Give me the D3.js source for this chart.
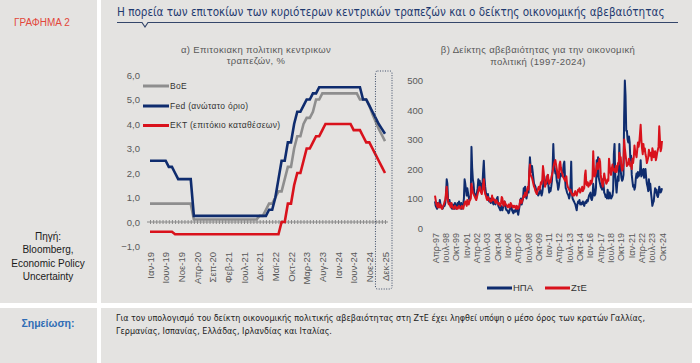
<!DOCTYPE html>
<html>
<head>
<meta charset="utf-8">
<script src="https://cdn.jsdelivr.net/npm/d3@7"></script>
<style>
  body { margin: 0; background: #fff; }
  svg { display: block; font-family: "Liberation Sans", Arial, sans-serif; }
</style>
</head>
<body>
<div id="chart"></div>
<script>
const WIDTH = 700;
const HEIGHT = 363;
const PANEL = '#e4e3e1';
const NAVY = '#0f2c6e';
const RED = '#d9121c';
const GREY = '#8e8e8e';
const TEXT = '#595959';

const MONTHS_GR = ['Ιαν', 'Φεβ', 'Μαρ', 'Απρ', 'Μαϊ', 'Ιουν', 'Ιουλ', 'Αυγ', 'Σεπ', 'Οκτ', 'Νοε', 'Δεκ'];

// --- chart a: policy rates, monthly Jan-19 .. Nov-24, then forecast points
const RATE_START = new Date(2019, 0, 1);
const RATE_END = new Date(2024, 10, 1);
const RATE_FORECASTS = ['Δεκ-24', 'Μαρ-25', 'Ιουν-25', 'Σεπ-25', 'Δεκ-25'];

const BOE = [
  0.75, 0.75, 0.75, 0.75, 0.75, 0.75, 0.75, 0.75, 0.75, 0.75, 0.75, 0.75,
  0.75, 0.75, 0.1, 0.1, 0.1, 0.1, 0.1, 0.1, 0.1, 0.1, 0.1, 0.1,
  0.1, 0.1, 0.1, 0.1, 0.1, 0.1, 0.1, 0.1, 0.1, 0.1, 0.1, 0.25,
  0.25, 0.5, 0.75, 0.75, 1.0, 1.25, 1.25, 1.75, 2.25, 2.25, 3.0, 3.5,
  3.5, 4.0, 4.25, 4.25, 4.5, 5.0, 5.0, 5.25, 5.25, 5.25, 5.25, 5.25,
  5.25, 5.25, 5.25, 5.25, 5.25, 5.25, 5.25, 5.0, 5.0, 5.0, 4.75,
  4.4, 4.1, 3.8, 3.55, 3.3
];
const FED = [
  2.5, 2.5, 2.5, 2.5, 2.5, 2.5, 2.25, 2.25, 2.0, 1.75, 1.75, 1.75,
  1.75, 1.75, 0.25, 0.25, 0.25, 0.25, 0.25, 0.25, 0.25, 0.25, 0.25, 0.25,
  0.25, 0.25, 0.25, 0.25, 0.25, 0.25, 0.25, 0.25, 0.25, 0.25, 0.25, 0.25,
  0.25, 0.25, 0.5, 0.5, 1.0, 1.75, 2.5, 2.5, 3.25, 3.25, 4.0, 4.5,
  4.5, 4.75, 5.0, 5.0, 5.25, 5.25, 5.5, 5.5, 5.5, 5.5, 5.5, 5.5,
  5.5, 5.5, 5.5, 5.5, 5.5, 5.5, 5.5, 5.5, 5.0, 5.0, 4.75,
  4.5, 4.25, 4.0, 3.8, 3.6
];
const ECB = [
  -0.4, -0.4, -0.4, -0.4, -0.4, -0.4, -0.4, -0.4, -0.5, -0.5, -0.5, -0.5,
  -0.5, -0.5, -0.5, -0.5, -0.5, -0.5, -0.5, -0.5, -0.5, -0.5, -0.5, -0.5,
  -0.5, -0.5, -0.5, -0.5, -0.5, -0.5, -0.5, -0.5, -0.5, -0.5, -0.5, -0.5,
  -0.5, -0.5, -0.5, -0.5, -0.5, -0.5, 0.0, 0.0, 0.75, 0.75, 1.5, 2.0,
  2.0, 2.5, 3.0, 3.0, 3.25, 3.5, 3.5, 3.75, 4.0, 4.0, 4.0, 4.0,
  4.0, 4.0, 4.0, 4.0, 4.0, 3.75, 3.75, 3.75, 3.5, 3.25, 3.25,
  3.0, 2.75, 2.5, 2.25, 2.0
];
const RATE_TICKS = [-1, 0, 1, 2, 3, 4, 5, 6];

// --- chart b: economic policy uncertainty, monthly Apr-97 .. Oct-24
const EPU_START = new Date(1997, 3, 1);
const EPU_US = [
  90, 75, 70, 65, 85, 70, 75, 95, 80,
  75, 70, 65, 70, 80, 75, 85, 110, 165, 150, 95, 85,
  95, 80, 75, 70, 65, 80, 70, 65, 85, 70, 65, 80,
  85, 75, 90, 70, 80, 85, 65, 70, 80, 100, 165, 150,
  130, 110, 135, 120, 105, 95, 100, 110, 275, 205, 165, 150,
  120, 115, 110, 100, 120, 135, 165, 145, 160, 140, 150, 125,
  150, 195, 228, 170, 140, 120, 110, 100, 115, 95, 90, 100,
  85, 95, 100, 85, 80, 95, 85, 80, 95, 100, 105, 75,
  70, 65, 60, 75, 65, 60, 70, 80, 90, 80, 65, 60,
  60, 55, 50, 55, 65, 70, 75, 60, 55, 50, 60, 55,
  55, 65, 70, 55, 45, 60, 75, 95, 100, 80, 90, 100,
  135, 125, 140, 110, 100, 115, 135, 120, 185, 240, 205, 190,
  210, 190, 170, 150, 145, 140, 130, 130, 120, 110, 115, 120,
  130, 120, 110, 120, 140, 165, 175, 155, 160, 150, 170, 180,
  140, 120, 135, 125, 140, 160, 200, 285, 220, 200, 185, 190,
  160, 150, 130, 140, 160, 180, 185, 180, 175, 190, 215, 225,
  170, 135, 130, 120, 115, 110, 100, 110, 150, 225, 120, 100,
  95, 90, 85, 80, 70, 60, 80, 90, 85, 95, 80, 85,
  80, 85, 90, 80, 75, 85, 90, 85, 95, 90, 100, 110,
  115, 120, 100, 95, 105, 150, 130, 110, 115, 135, 230, 175,
  240, 170, 160, 150, 140, 135, 130, 165, 150, 120, 115, 105,
  110, 100, 130, 115, 100, 120, 110, 100, 105, 110, 130, 250,
  285, 180, 150, 120, 150, 175, 160, 285, 210, 195, 170, 160,
  165, 180, 380, 500, 450, 330, 330, 300, 290, 310, 290, 230,
  245, 180, 160, 140, 145, 130, 140, 170, 185, 170, 190, 175,
  180, 190, 230, 175, 180, 195, 200, 170, 185, 200, 170, 150,
  140, 125, 165, 130, 150, 120, 100, 75, 85, 90, 115, 135,
  120, 130, 110, 105, 115, 140, 130, 120, 125, 135
];
const EPU_EU = [
  110, 95, 80, 75, 70, 85, 75, 70, 80,
  70, 65, 70, 75, 80, 90, 95, 120, 140, 110, 90, 80,
  85, 75, 70, 85, 75, 70, 65, 70, 75, 70, 65, 70,
  65, 70, 75, 70, 65, 70, 75, 70, 65, 75, 85, 90,
  85, 75, 95, 85, 80, 90, 95, 100, 150, 135, 120, 115,
  110, 105, 100, 95, 105, 115, 125, 135, 140, 125, 120, 115,
  130, 150, 165, 130, 115, 110, 100, 95, 105, 100, 95, 90,
  95, 90, 110, 95, 100, 95, 90, 85, 95, 90, 85, 80,
  85, 80, 75, 85, 105, 100, 80, 75, 90, 85, 80, 75,
  75, 70, 80, 75, 70, 85, 80, 75, 70, 75, 70, 75,
  70, 65, 75, 70, 65, 70, 80, 95, 90, 85, 95, 100,
  110, 105, 120, 115, 110, 130, 140, 130, 190, 215, 180, 175,
  170, 160, 150, 140, 135, 125, 120, 115, 125, 135, 140, 130,
  140, 155, 150, 165, 210, 190, 160, 140, 150, 155, 175, 180,
  165, 150, 160, 155, 170, 180, 190, 205, 215, 225, 230, 215,
  200, 185, 170, 170, 215, 225, 205, 190, 185, 175, 170, 165,
  160, 170, 175, 150, 140, 135, 130, 125, 130, 120, 115, 110,
  115, 110, 120, 125, 115, 110, 120, 130, 125, 135, 120, 125,
  130, 140, 125, 130, 135, 180, 195, 150, 145, 155, 140, 150,
  145, 160, 150, 155, 170, 260, 205, 175, 180, 190, 210, 220,
  200, 215, 235, 225, 180, 160, 150, 140, 165, 185, 170, 160,
  150, 155, 165, 160, 235, 210, 190, 180, 200, 215, 195, 200,
  195, 190, 210, 190, 200, 220, 215, 255, 230, 240, 210, 195,
  200, 220, 300, 270, 250, 230, 210, 220, 215, 235, 225, 210,
  215, 200, 235, 220, 240, 280, 260, 250, 240, 265, 290, 275,
  290, 320, 350, 300, 270, 250, 285, 260, 270, 250, 240, 220,
  230, 240, 265, 250, 245, 255, 230, 270, 260, 240, 250, 260,
  230, 240, 255, 265, 275, 345, 300, 260, 270, 295
];
const EPU_TICKS = [0, 100, 200, 300, 400, 500];

const TITLE = 'Η πορεία των επιτοκίων των κυριότερων κεντρικών τραπεζών και ο δείκτης οικονομικής αβεβαιότητας';
const NOTE_LINES = [
  'Για τον υπολογισμό του δείκτη οικονομικής πολιτικής αβεβαιότητας στη ΖτΕ έχει ληφθεί υπόψη ο μέσο όρος  των κρατών Γαλλίας,',
  'Γερμανίας, Ισπανίας, Ελλάδας, Ιρλανδίας και Ιταλίας.'
];
const SOURCE_LINES = ['Πηγή:', 'Bloomberg,', 'Economic Policy', 'Uncertainty'];

const monthLabel = d => MONTHS_GR[d.getMonth()] + '-' + String(d.getFullYear()).slice(2);

const rateCats = d3.timeMonth.range(RATE_START, d3.timeMonth.offset(RATE_END, 1)).map(monthLabel).concat(RATE_FORECASTS);
const epuDates = EPU_US.map((v, i) => d3.timeMonth.offset(EPU_START, i));

const svg = d3.select('#chart').append('svg')
  .attr('width', WIDTH)
  .attr('height', HEIGHT);

// panels
svg.append('rect').attr('x', 0).attr('y', 0).attr('width', 97).attr('height', 303).attr('fill', PANEL);
svg.append('rect').attr('x', 101).attr('y', 0).attr('width', 591).attr('height', 303).attr('fill', PANEL);
svg.append('rect').attr('x', 0).attr('y', 308).attr('width', 97).attr('height', 55).attr('fill', PANEL);
svg.append('rect').attr('x', 101).attr('y', 308).attr('width', 591).attr('height', 55).attr('fill', PANEL);

// header
svg.append('text')
  .attr('x', 14).attr('y', 26)
  .attr('fill', '#e2473b')
  .style('font-size', '10px')
  .text('ΓΡΑΦΗΜΑ 2');

const title = svg.append('text')
  .attr('x', 117).attr('y', 16)
  .attr('fill', '#1f3a70')
  .style('font-family', '"Liberation Sans Narrow", "DejaVu Sans Condensed", Arial, sans-serif')
  .style('font-size', '13px')
  .text(TITLE);
const tw = title.node().getComputedTextLength();
title.style('font-size', (13 * 548 / tw) + 'px');

svg.append('path')
  .attr('d', 'M117,22.5 H142 L145,27 L148,22.5 H678')
  .attr('fill', 'none')
  .attr('stroke', '#34466a')
  .attr('stroke-width', 1.2);

// source + note
svg.append('text')
  .attr('text-anchor', 'middle')
  .attr('fill', '#1a1a1a')
  .style('font-size', '10px')
  .selectAll('tspan')
  .data(SOURCE_LINES)
  .enter()
  .append('tspan')
  .attr('x', 48)
  .attr('y', (d, i) => 240 + i * 13.3)
  .text(d => d);

svg.append('text')
  .attr('x', 48).attr('y', 327)
  .attr('text-anchor', 'middle')
  .attr('fill', '#2f6db5')
  .style('font-size', '10.5px')
  .style('font-weight', 'bold')
  .text('Σημείωση:');

const note = svg.append('text')
  .attr('fill', '#222')
  .style('font-family', '"Liberation Sans Narrow", "DejaVu Sans Condensed", Arial, sans-serif')
  .style('font-size', '9px');
note.selectAll('tspan')
  .data(NOTE_LINES)
  .enter()
  .append('tspan')
  .attr('x', 116)
  .attr('y', (d, i) => 321 + i * 12.5)
  .text(d => d);
const nw = note.select('tspan').node().getComputedTextLength();
note.style('font-size', (9 * 530 / nw) + 'px');

// ---------- chart a
const xL = d3.scalePoint().domain(d3.range(rateCats.length)).range([150, 385]);
const yL = d3.scaleLinear().domain([-1, 6]).range([246.5, 75]);

svg.append('text')
  .attr('text-anchor', 'middle')
  .attr('fill', TEXT)
  .style('font-size', '9.5px')
  .style('letter-spacing', '0.35px')
  .selectAll('tspan')
  .data(['α) Επιτοκιακη πολιτικη κεντρικων', 'τραπεζών, %'])
  .enter()
  .append('tspan')
  .attr('x', 256)
  .attr('y', (d, i) => 53 + i * 11)
  .text(d => d);

const yAxisL = svg.append('g')
  .attr('transform', 'translate(143,0)')
  .call(d3.axisLeft(yL).tickValues(RATE_TICKS).tickSize(0).tickPadding(3)
    .tickFormat(d => d3.format('.1f')(d).replace('.', ',')));
yAxisL.select('.domain').remove();
yAxisL.selectAll('text').attr('fill', TEXT).style('font-size', '9.5px').style('font-family', '"Liberation Sans", Arial, sans-serif');

// zero line with category ticks
const zeroAxis = svg.append('g')
  .attr('transform', `translate(0,${yL(0)})`)
  .call(d3.axisBottom(xL).tickSizeInner(2).tickSizeOuter(0).tickFormat(''));
zeroAxis.select('.domain')
  .attr('d', `M${xL(0) - 3},0H${xL(rateCats.length - 1) + 3}`)
  .attr('stroke', '#8a8a8a');
zeroAxis.selectAll('.tick line').attr('y1', -2).attr('y2', 2).attr('stroke', '#8a8a8a');

const xAxisL = svg.append('g')
  .attr('transform', 'translate(0,252)')
  .call(d3.axisBottom(xL).tickValues(d3.range(0, rateCats.length, 5)).tickSize(0).tickFormat(i => rateCats[i]));
xAxisL.select('.domain').remove();
xAxisL.selectAll('text')
  .attr('x', 0).attr('y', 0).attr('dy', '0.35em')
  .attr('transform', 'rotate(-90)')
  .attr('text-anchor', 'end')
  .attr('fill', TEXT)
  .style('font-size', '9.5px')
  .style('font-family', '"Liberation Sans", Arial, sans-serif');

const rateSeries = [
  { name: 'BoE', values: BOE, color: GREY },
  { name: 'Fed (ανώτατο όριο)', values: FED, color: NAVY },
  { name: 'ΕΚΤ (επιτόκιο καταθέσεων)', values: ECB, color: RED }
];
const lineL = d3.line().x((d, i) => xL(i)).y(d => yL(d));
svg.selectAll('.rate-line')
  .data(rateSeries)
  .enter()
  .append('path')
  .attr('class', 'rate-line')
  .attr('d', d => lineL(d.values))
  .attr('fill', 'none')
  .attr('stroke', d => d.color)
  .attr('stroke-width', 2.6);

const legendL = svg.selectAll('.legend-l')
  .data(rateSeries)
  .enter()
  .append('g')
  .attr('class', 'legend-l')
  .attr('transform', (d, i) => `translate(143,${[86, 106, 125.5][i]})`);
legendL.append('line').attr('x1', 0).attr('x2', 26).attr('stroke', d => d.color).attr('stroke-width', 3);
legendL.append('text')
  .attr('x', 27).attr('dy', '0.35em')
  .attr('fill', '#333')
  .style('font-size', '8.5px')
  .style('letter-spacing', '0.3px')
  .text(d => d.name);

// forecast box
svg.append('rect')
  .attr('x', xL(rateCats.length - 5) + 3)
  .attr('y', yL(6) - 4)
  .attr('width', xL(rateCats.length - 1) - xL(rateCats.length - 5) + 4)
  .attr('height', 289 - (yL(6) - 4))
  .attr('rx', 2)
  .attr('fill', 'none')
  .attr('stroke', '#3b4a66')
  .attr('stroke-width', 1)
  .attr('stroke-dasharray', '1,1.5');

// ---------- chart b
const xR = d3.scaleTime().domain([epuDates[0], epuDates[epuDates.length - 1]]).range([435, 662]);
const yR = d3.scaleLinear().domain([0, 500]).range([228, 80.5]);

svg.append('text')
  .attr('text-anchor', 'middle')
  .attr('fill', TEXT)
  .style('font-size', '9.5px')
  .style('letter-spacing', '0.35px')
  .selectAll('tspan')
  .data(['β) Δείκτης αβεβαιότητας για την οικονομική', 'πολιτική (1997-2024)'])
  .enter()
  .append('tspan')
  .attr('x', 538)
  .attr('y', (d, i) => 53 + i * 12)
  .text(d => d);

const yAxisR = svg.append('g')
  .attr('transform', 'translate(426,0)')
  .call(d3.axisLeft(yR).tickValues(EPU_TICKS).tickSize(0).tickPadding(3));
yAxisR.select('.domain').remove();
yAxisR.selectAll('text').attr('fill', TEXT).style('font-size', '9.5px').style('font-family', '"Liberation Sans", Arial, sans-serif');

const xAxisR = svg.append('g')
  .attr('transform', 'translate(0,233)')
  .call(d3.axisBottom(xR).tickValues(epuDates.filter((d, i) => i % 15 === 0)).tickSize(0).tickFormat(monthLabel));
xAxisR.select('.domain').remove();
xAxisR.selectAll('text')
  .attr('x', 0).attr('y', 0).attr('dy', '0.35em')
  .attr('transform', 'rotate(-90)')
  .attr('text-anchor', 'end')
  .attr('fill', TEXT)
  .style('font-size', '9px')
  .style('font-family', '"Liberation Sans", Arial, sans-serif');

const epuSeries = [
  { name: 'ΗΠΑ', values: EPU_US, color: NAVY },
  { name: 'ΖτΕ', values: EPU_EU, color: RED }
];
const lineR = d3.line().x((d, i) => xR(epuDates[i])).y(d => yR(d));
svg.selectAll('.epu-line')
  .data(epuSeries)
  .enter()
  .append('path')
  .attr('class', 'epu-line')
  .attr('d', d => lineR(d.values))
  .attr('fill', 'none')
  .attr('stroke', d => d.color)
  .attr('stroke-width', 2)
  .attr('stroke-linejoin', 'round');

const legendR = svg.selectAll('.legend-r')
  .data(epuSeries)
  .enter()
  .append('g')
  .attr('class', 'legend-r')
  .attr('transform', (d, i) => `translate(${[487, 545][i]},288)`);
legendR.append('line').attr('x1', 0).attr('x2', 25).attr('stroke', d => d.color).attr('stroke-width', 3);
legendR.append('text')
  .attr('x', 26).attr('dy', '0.35em')
  .attr('fill', '#333')
  .style('font-size', '9.5px')
  .text(d => d.name);
</script>
</body>
</html>
